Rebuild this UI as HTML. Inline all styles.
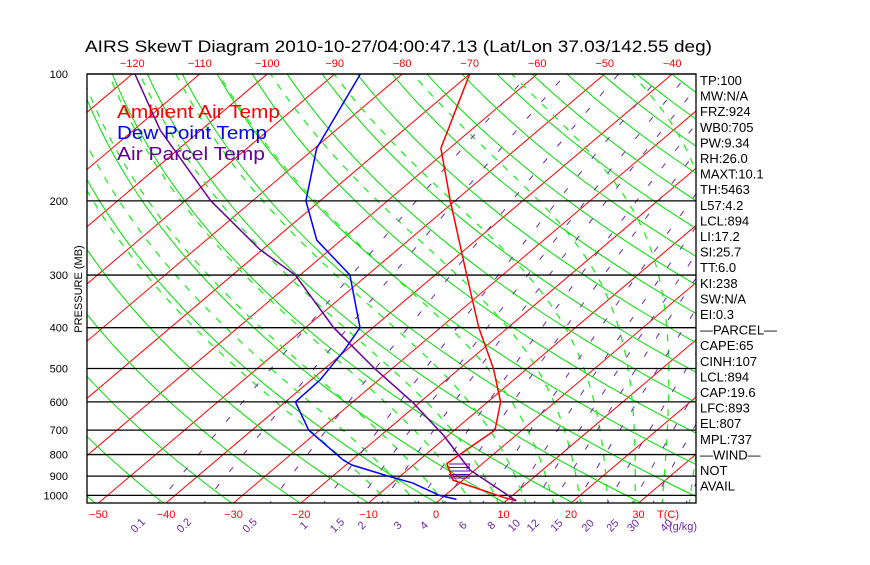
<!DOCTYPE html>
<html><head><meta charset="utf-8"><style>
body{margin:0;background:#fff;}
svg text{font-family:"Liberation Sans",sans-serif;}
</style></head><body>
<svg id="c" width="870" height="560" xmlns="http://www.w3.org/2000/svg">
<defs><clipPath id="pc"><rect x="87" y="74" width="609" height="429"/></clipPath></defs>
<g id="bg" clip-path="url(#pc)"></g>
<g id="fg"></g>
</svg>
<script>
// ---- data ----
const isoTemps = [-150,-140,-130,-120,-110,-100,-90,-80,-70,-60,-50,-40,-30,-20,-10,0,10,20,30,40];
const thetas = [];
for (let t = 190; t <= 520; t += 10) thetas.push(t);
const moistStarts = [-6,-2,2,6,10,14,18,22,26,30,34,38,42,46];
const mixRatios = [0.1,0.2,0.5,1,1.5,2,3,4,6,8,10,12,15,20,25,30,40];
const tempP = [100,150,200,300,400,500,600,700,740,840,920,1010,1030];
const tempT = [-70,-61.3,-50.7,-35.3,-24.3,-15,-8.1,-4,-4.4,-5.3,-1.5,8.9,11.5];
const dewP = [100,150,200,248,300,400,452,532,600,700,824,847,903,934,1000,1022];
const dewT = [-86.2,-79.7,-72.1,-63.6,-52.6,-41.9,-40.3,-38.7,-38.5,-31.6,-21.3,-19.1,-11.4,-7,-0.8,2.4];
const parP = [100,136,200,261,300,400,500,600,719,800,871,1030];
const parT = [-119.6,-106,-86.2,-70.4,-60.7,-45.8,-32.6,-21.2,-10.8,-5.2,-0.7,11.5];
const pLabels = [100,200,300,400,500,600,700,800,900,1000];
const topTicks = [-120,-110,-100,-90,-80,-70,-60,-50,-40];
const botTicks = [-50,-40,-30,-20,-10,0,10,20,30];
const sideLabels = ["TP:100","MW:N/A","FRZ:924","WB0:705","PW:9.34","RH:26.0","MAXT:10.1","TH:5463","L57:4.2","LCL:894","LI:17.2","SI:25.7","TT:6.0","KI:238","SW:N/A","EI:0.3","\u2014PARCEL\u2014","CAPE:65","CINH:107","LCL:894","CAP:19.6","LFC:893","EL:807","MPL:737","\u2014WIND\u2014"," NOT"," AVAIL"];

// ---- axes ----
const NS = "http://www.w3.org/2000/svg";
const yP = p => 74 + 183 * Math.log(p / 100);
const xT = (t, y) => 436 + 6.75 * t + 1.18 * (503 - y);
const bg = document.getElementById('bg'), fg = document.getElementById('fg');
function mk(tag, attrs, parent) { const e = document.createElementNS(NS, tag); for (const k in attrs) e.setAttribute(k, attrs[k]); parent.appendChild(e); return e; }
function poly(pts, col, w, dash, parent) { const a = { points: pts.map(q => q[0].toFixed(1) + ',' + q[1].toFixed(1)).join(' '), fill: 'none', stroke: col, 'stroke-width': w }; if (dash) a['stroke-dasharray'] = dash; return mk('polyline', a, parent); }
const pGrid = []; for (let i = 0; i <= 60; i++) pGrid.push(1060 * Math.pow(90 / 1060, i / 60));
const es = t => 6.112 * Math.exp(17.67 * t / (t + 243.5));

// isotherms
isoTemps.forEach(t => { const l = poly([[xT(t, 503), 503], [xT(t, 74), 74]], '#ff0000', 1, null, bg);   });
// dry adiabats
thetas.forEach(th => { const pts = pGrid.map(p => { const T = th * Math.pow(p / 1000, 0.2857) - 273.15; const y = yP(p); return [xT(T, y), y]; }); const l = poly(pts, '#00dd00', 1, null, bg);   });
// moist adiabats
moistStarts.forEach(t0 => {
  let T = t0 + 273.15, p = 1060; const pts = [];
  const n = 200, dl = Math.log(90 / 1060) / n;
  for (let i = 0; i <= n; i++) {
    const y = yP(p); pts.push([xT(T - 273.15, y), y]);
    const e = es(T - 273.15), rs = 0.622 * e / (p - e);
    const dT = (287 * T + 2.5e6 * rs) / (1004 + 2.5e6 * 2.5e6 * rs * 0.622 / (287 * T * T));
    T += dT * dl; p *= Math.exp(dl);
  }
  const l = poly(pts, '#22ee22', 1.3, '7,8', bg);  
});
// mixing ratio lines
mixRatios.forEach(w => { const pts = pGrid.map(p => { const e = w * p / (622 + w); const L = Math.log(e / 6.112); const T = 243.5 * L / (17.67 - L); const y = yP(p); return [xT(T, y), y]; }); const l = poly(pts, '#6a2aa8', 1, '6,16', bg);   });
// isobars
pLabels.forEach(p => { const y = yP(p); const l = mk('line', { x1: 87, x2: 696, y1: y, y2: y, stroke: '#000', 'stroke-width': 1.3 }, fg);


const t = mk('text', { x: 68, y: y + 4, 'text-anchor': 'end', 'font-size': 11, fill: '#000' }, fg); t.textContent = p;

 });
// cape hatching
for (let y = 464; y <= 478; y += 3.5) { const l = mk('line', { x1: 449, x2: 470, y1: y, y2: y, stroke: '#660099', 'stroke-width': 1 }, fg);

 }
// profiles
function prof(P, T, col, name) { const pts = P.map((p, i) => { const y = yP(p); return [xT(T[i], y), y]; }); const l = poly(pts, col, 1.5, null, fg);

 }
prof(tempP, tempT, '#ff0000', 'ambient-temp-line');
prof(dewP, dewT, '#0000ff', 'dew-point-line');
prof(parP, parT, '#660099', 'parcel-temp-line');
// frame
const fr = mk('rect', { x: 87, y: 74, width: 609, height: 429, fill: 'none', stroke: '#000', 'stroke-width': 1.3 }, fg);


function txt(s, x, y, size, col, name, extra) { const t = mk('text', Object.assign({ x: x, y: y, 'font-size': size, fill: col }, extra || {}), fg); t.textContent = s;   return t; }
txt('AIRS SkewT Diagram 2010-10-27/04:00:47.13 (Lat/Lon 37.03/142.55 deg)', 85, 52, 17, '#000', 'chart-title', { textLength: 627, lengthAdjust: 'spacingAndGlyphs' });
topTicks.forEach(t => txt(String(t).replace('-', '\u2212'), xT(t, 74), 67, 11, '#ff0000', 'top-tick', { 'text-anchor': 'middle' }));
botTicks.forEach(t => txt(String(t).replace('-', '\u2212'), xT(t, 503), 518, 11, '#ff0000', 'bottom-tick', { 'text-anchor': 'middle' }));
txt('T(C)', 668, 518, 11, '#ff0000', 'temp-unit-label', { 'text-anchor': 'middle' });
mixRatios.forEach(w => { const e = w * 1050 / (622 + w); const L = Math.log(e / 6.112); const T = 243.5 * L / (17.67 - L); const x = xT(T, 503) - 18; const t = txt(String(w), x, 528, 11, '#6a2aa8', 'mixing-ratio-label', { transform: 'rotate(-45 ' + x + ' 528)', 'text-anchor': 'middle' }); });
txt('(g/kg)', 683, 530, 11, '#6a2aa8', 'mixing-ratio-unit', { 'text-anchor': 'middle' });
txt('PRESSURE (MB)', 82, 289, 11, '#000', 'y-axis-title', { transform: 'rotate(-90 82 289)', 'text-anchor': 'middle' });
txt('Ambient Air Temp', 117, 118, 18, '#ff0000', 'legend-ambient', { textLength: 163, lengthAdjust: 'spacingAndGlyphs' });
txt('Dew Point Temp', 117, 139, 18, '#0000ff', 'legend-dewpoint', { textLength: 150, lengthAdjust: 'spacingAndGlyphs' });
txt('Air Parcel Temp', 117, 160, 18, '#660099', 'legend-parcel', { textLength: 148, lengthAdjust: 'spacingAndGlyphs' });
sideLabels.forEach((s, i) => txt(s, 700, 85 + i * 15.6, 13, '#000', 'index-label'));
</script>
</body></html>
